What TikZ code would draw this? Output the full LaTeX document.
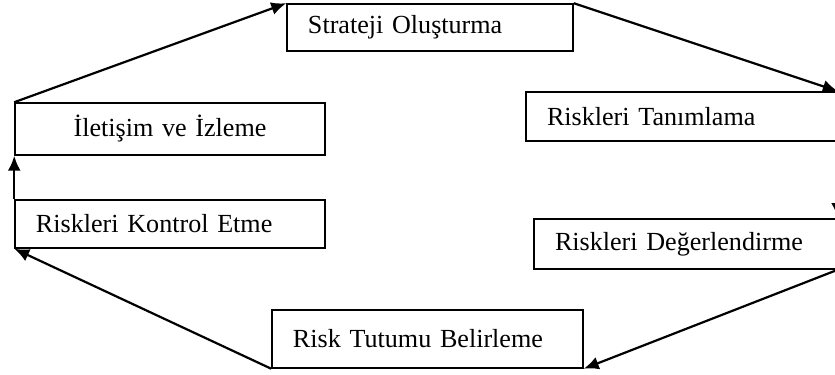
\documentclass[tikz,border=0pt]{standalone}
\usepackage{fontspec}
\setmainfont{Liberation Serif}
\usetikzlibrary{arrows.meta}
\begin{document}
\begin{tikzpicture}[x=0.5bp,y=-0.5bp]
  \tikzset{stage/.style={draw, rectangle, line width=0.75bp, inner xsep=10.5bp, inner ysep=0pt, align=left, font=\fontsize{13.1}{16}\selectfont}}
  \tikzset{flow/.style={line width=1.1bp, -{Latex[length=7.5bp,width=6.5bp]}}}
  \useasboundingbox (0,0) rectangle (835,375);
    \node[stage, text width=122bp, minimum height=23.5bp] at (430,27.5) (strat) {Strateji Oluşturma};
    \node[stage, text width=134.5bp, minimum height=24.5bp] at (681.5,116.5) (tanim) {Riskleri Tanımlama};
    \node[stage, text width=130.5bp, minimum height=25bp] at (685.5,244) (deger) {Riskleri Değerlendirme};
    \node[stage, text width=134.5bp, minimum height=29bp] at (427.5,339) (tutum) {Risk Tutumu Belirleme};
    \node[stage, text width=134bp, minimum height=24bp] at (170,224) (kontrol) {Riskleri Kontrol Etme};
    \node[stage, text width=134bp, minimum height=26bp, align=center] at (170,129) (ilet) {İletişim ve İzleme};

	\path[flow] (ilet.north west) edge node {} (strat.north west);
	\path[flow] (strat.north east) edge node {} (tanim.north east);
	\path[flow] (tanim.south east) edge node {} (deger.north east);
	\path[flow] (deger.south east) edge node {} (tutum.south east);
	\path[flow] (tutum.south west) edge node {} (kontrol.south west);
	\path[flow] (kontrol.north west) edge node {} (ilet.south west);

\end{tikzpicture}
\end{document}
